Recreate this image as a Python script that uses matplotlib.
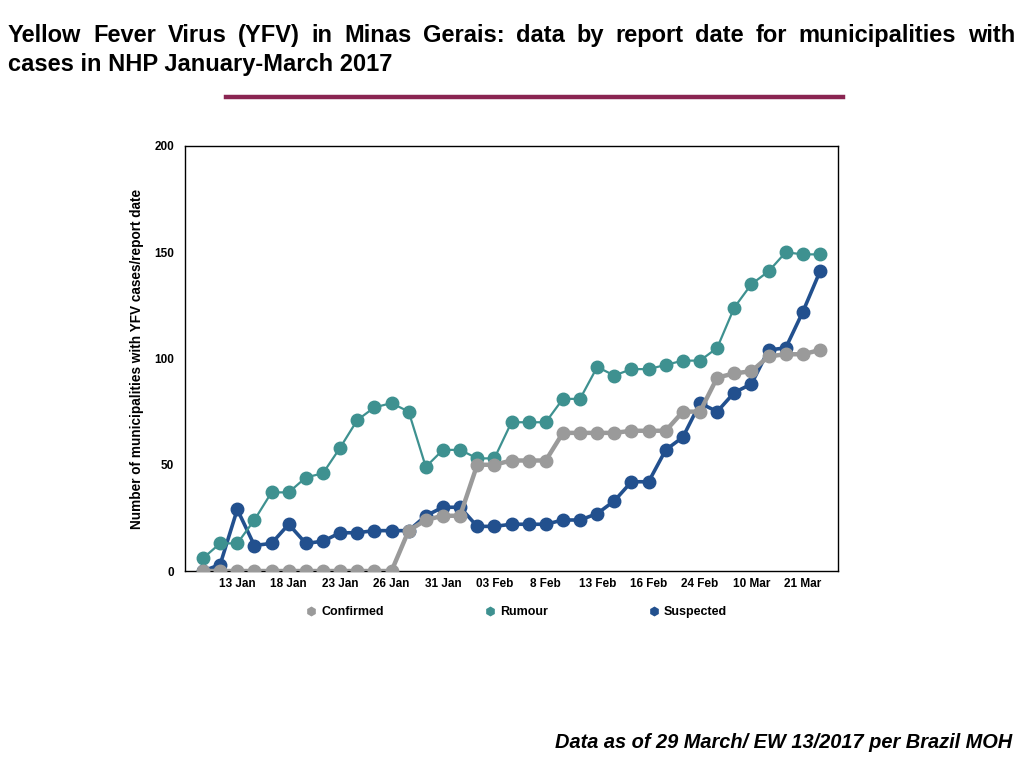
import numpy as np
import matplotlib.pyplot as plt
from matplotlib.lines import Line2D

plt.rcParams['font.family'] = ['Liberation Sans', 'DejaVu Sans']

# report dates (only every third one is labelled on the axis)
tick_pos = [2, 5, 8, 11, 14, 17, 20, 23, 26, 29, 32, 35]
tick_labels = ['13 Jan', '18 Jan', '23 Jan', '26 Jan', '31 Jan', '03 Feb',
               '8 Feb', '13 Feb', '16 Feb', '24 Feb', '10 Mar', '21 Mar']

confirmed = [0, 0, 0, 0, 0, 0, 0, 0, 0, 0, 0, 0, 19, 24, 26, 26, 50, 50, 52,
             52, 52, 65, 65, 65, 65, 66, 66, 66, 75, 75, 91, 93, 94, 101, 102,
             102, 104]
rumour = [6, 13, 13, 24, 37, 37, 44, 46, 58, 71, 77, 79, 75, 49, 57, 57, 53,
          53, 70, 70, 70, 81, 81, 96, 92, 95, 95, 97, 99, 99, 105, 124, 135,
          141, 150, 149, 149]
suspected = [0, 3, 29, 12, 13, 22, 13, 14, 18, 18, 19, 19, 19, 26, 30, 30, 21,
             21, 22, 22, 22, 24, 24, 27, 33, 42, 42, 57, 63, 79, 75, 84, 88,
             104, 105, 122, 141]

c_conf = '#9a9a9a'
c_rum = '#3e9190'
c_sus = '#22508e'

fig = plt.figure(figsize=(10.24, 7.68), dpi=100)
ax = fig.add_axes([185/1024, 1-571/768, 653/1024, 425/768])

x = np.arange(len(confirmed))
ax.plot(x, suspected, color=c_sus, lw=2.6, marker='o', ms=9, zorder=2)
ax.plot(x, rumour, color=c_rum, lw=1.6, marker='o', ms=9, zorder=3)
ax.plot(x, confirmed, color=c_conf, lw=3.2, marker='o', ms=9, zorder=4)

ax.set_xlim(-1.05, 37.05)
ax.set_ylim(0, 200)
ax.set_yticks([0, 50, 100, 150, 200])
ax.set_xticks(tick_pos)
ax.set_xticklabels(tick_labels)
ax.tick_params(length=0, labelsize=8.5)
ax.tick_params(axis='x', pad=5)
ax.tick_params(axis='y', pad=8)
for lab in ax.get_xticklabels() + ax.get_yticklabels():
    lab.set_fontweight('bold')
for s in ax.spines.values():
    s.set_linewidth(1.0)
ax.set_ylabel('Number of municipalities with YFV cases/report date',
              fontsize=9.8, fontweight='bold', labelpad=7)

handles = [Line2D([], [], color=c, marker='h', ms=6, ls='none')
           for c in (c_conf, c_rum, c_sus)]
fig.legend(handles, ['Confirmed', 'Rumour', 'Suspected'], loc='center',
           bbox_to_anchor=(516/1024, 1-612/768), ncol=3, frameon=False,
           handletextpad=0.3, columnspacing=8.0, handlelength=1.0,
           prop={'size': 9, 'weight': 'bold'})

# title, first line justified across the width
tfont = dict(fontsize=17, fontweight='bold', va='baseline')
line1 = 'Yellow Fever Virus (YFV) in Minas Gerais: data by report date for municipalities with'
words = line1.split()
renderer = fig.canvas.get_renderer()
objs = [fig.text(0, 1-42/768, w, **tfont) for w in words]
widths = [o.get_window_extent(renderer).width for o in objs]
left, right = 8, 1015
gap = (right - left - sum(widths)) / (len(words) - 1)
pos = left
for o, w in zip(objs, widths):
    o.set_x(pos / 1024)
    pos += w + gap
fig.text(8/1024, 1-71/768, 'cases in NHP January-March 2017', **tfont)

fig.add_artist(Line2D([226/1024, 843/1024], [1-97/768, 1-97/768],
                      color='#8a2552', lw=3.2))

fig.text(1012/1024, 1-742/768, 'Data as of 29 March/ EW 13/2017 per Brazil MOH',
         ha='right', va='center', fontsize=14.4, fontweight='bold',
         fontstyle='italic')

fig.savefig('out.png', dpi=100)
